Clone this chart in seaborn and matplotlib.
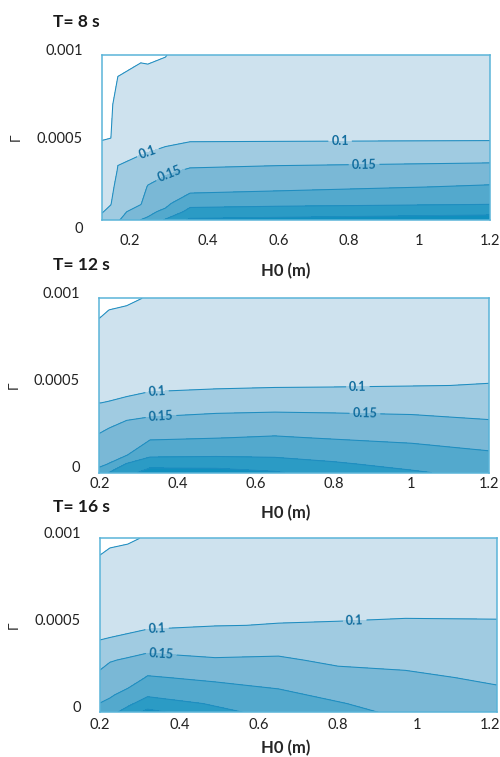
"""
Contour maps of the index against H0 and Gamma for three periods (T = 8, 12, 16 s)
"""
import numpy as np
import matplotlib
matplotlib.use("Agg")
import matplotlib.pyplot as plt
import matplotlib.transforms as mtransforms
import seaborn as sns

# Gamma sample heights, shared by the three runs
GAMMA = [0, 0.00005, 0.0001, 0.0002, 0.0003, 0.0004, 0.0005, 0.0007, 0.001]

# T = 8 s : H0 nodes, and the index at each GAMMA height (one list per H0 node)
H0_8 = [0.1, 0.125, 0.145, 0.21, 0.23, 0.28, 0.35, 0.6, 1.2]
VAL_8 = [
    [0.110, 0.098, 0.092, 0.081, 0.070, 0.059, 0.048, 0.045, 0.040],
    [0.125, 0.109, 0.098, 0.086, 0.074, 0.062, 0.0495, 0.045, 0.040],
    [0.145, 0.138, 0.131, 0.117, 0.103, 0.093, 0.083, 0.063, 0.040],
    [0.201, 0.169, 0.147, 0.131, 0.115, 0.099, 0.090, 0.071, 0.046],
    [0.205, 0.192, 0.179, 0.153, 0.127, 0.101, 0.090, 0.072, 0.045],
    [0.255, 0.208, 0.190, 0.167, 0.142, 0.113, 0.084, 0.072, 0.049],
    [0.308, 0.267, 0.234, 0.180, 0.155, 0.123, 0.092, 0.083, 0.065],
    [0.313, 0.272, 0.239, 0.188, 0.160, 0.126, 0.092, 0.084, 0.066],
    [0.325, 0.284, 0.246, 0.205, 0.167, 0.130, 0.093, 0.085, 0.067],
]

# T = 12 s
H0_12 = [0.2, 0.225, 0.27, 0.33, 0.5, 0.65, 0.8, 1.0, 1.2]
VAL_12 = [
    [0.210, 0.194, 0.181, 0.157, 0.129, 0.0998, 0.089, 0.066, 0.040],
    [0.251, 0.201, 0.189, 0.165, 0.138, 0.101, 0.091, 0.071, 0.044],
    [0.280, 0.253, 0.199, 0.175, 0.1499, 0.1034, 0.094, 0.074, 0.046],
    [0.324, 0.280, 0.242, 0.194, 0.157, 0.122, 0.088, 0.081, 0.052],
    [0.320, 0.280, 0.245, 0.199, 0.164, 0.129, 0.093, 0.083, 0.060],
    [0.305, 0.272, 0.243, 0.204, 0.167, 0.131, 0.096, 0.083, 0.060],
    [0.275, 0.255, 0.236, 0.197, 0.164, 0.131, 0.097, 0.084, 0.060],
    [0.255, 0.238, 0.222, 0.190, 0.160, 0.130, 0.099, 0.084, 0.060],
    [0.236, 0.222, 0.207, 0.179, 0.151, 0.127, 0.101, 0.085, 0.060],
]

# T = 16 s
H0_16 = [0.2, 0.225, 0.27, 0.32, 0.49, 0.65, 0.8, 0.97, 1.2]
VAL_16 = [
    [0.215, 0.201, 0.188, 0.162, 0.134, 0.1017, 0.091, 0.069, 0.041],
    [0.235, 0.211, 0.194, 0.171, 0.147, 0.103, 0.093, 0.072, 0.045],
    [0.270, 0.240, 0.217, 0.172, 0.155, 0.120, 0.082, 0.074, 0.047],
    [0.315, 0.274, 0.244, 0.204, 0.165, 0.128, 0.092, 0.080, 0.052],
    [0.262, 0.245, 0.227, 0.191, 0.154, 0.126, 0.099, 0.083, 0.058],
    [0.235, 0.222, 0.209, 0.183, 0.156, 0.130, 0.101, 0.085, 0.060],
    [0.215, 0.203, 0.190, 0.165, 0.142, 0.124, 0.102, 0.085, 0.060],
    [0.190, 0.181, 0.173, 0.157, 0.140, 0.123, 0.1035, 0.086, 0.060],
    [0.171, 0.164, 0.158, 0.144, 0.131, 0.118, 0.103, 0.086, 0.060],
]

TITLES = ['T= 8 s', 'T= 12 s', 'T= 16 s']
LEVELS = [0, 0.05, 0.1, 0.15, 0.2, 0.25, 0.3, 0.35]
PLAIN_LEVELS = [0.05, 0.2, 0.25, 0.3]
LABEL_LEVELS = [0.1, 0.15]
X_TICKS = [0.2, 0.4, 0.6, 0.8, 1.0, 1.2]
X_TICK_LABELS = ['0.2', '0.4', '0.6', '0.8', '1', '1.2']
Y_TICKS = [0, 0.0005, 0.001]
Y_TICK_LABELS = ['0', '0.0005', '0.001']


def shift_labels(fig, labels, shifts, axis):
    """
    Nudge tick labels by a few pixels, as they sit in the printed figure
    """
    for lab, d in zip(labels, shifts):
        dx, dy = (d, 0) if axis == 'x' else (0, d)
        lab.set_transform(lab.get_transform() + mtransforms.ScaledTranslation(
            dx / 100.0, dy / 100.0, fig.dpi_scale_trans))


def draw_panel(fig, rect, h0, vals, xmin, title, title_y, xlab_xy, ylab_x,
               xpad, label_pos, ylab_shift, xlab_shift):
    """
    Filled contour map of one run
    """
    ax = fig.add_axes(rect)
    z = np.array(vals).T

    ax.contourf(h0, GAMMA, z, levels=LEVELS, colors=FILL_COLORS)
    ax.contour(h0, GAMMA, z, levels=PLAIN_LEVELS, colors=LINE_COLOR,
               linewidths=0.75)
    cs = ax.contour(h0, GAMMA, z, levels=LABEL_LEVELS, colors=LINE_COLOR,
                    linewidths=0.75)
    labels = ax.clabel(cs, manual=label_pos, inline=True,
                       fmt={0.1: '0.1', 0.15: '0.15'}, fontsize=9,
                       colors=LABEL_COLOR, inline_spacing=3)
    for t in labels:
        t.set_fontweight('bold')

    ax.set_xlim(xmin, 1.2)
    ax.set_ylim(0, 0.001)
    ax.set_xticks(X_TICKS)
    ax.set_xticklabels(X_TICK_LABELS)
    ax.set_yticks(Y_TICKS)
    ax.set_yticklabels(Y_TICK_LABELS)

    for s in ax.spines.values():
        s.set_color(FRAME_COLOR)
        s.set_linewidth(1.1)
    ax.tick_params(axis='both', direction='out', length=4, width=1,
                   color=FRAME_COLOR, labelsize=10.5, labelcolor='#222222')
    ax.tick_params(axis='x', pad=xpad)
    ax.tick_params(axis='y', pad=10)

    shift_labels(fig, ax.get_yticklabels(), ylab_shift, 'y')
    shift_labels(fig, ax.get_xticklabels(), xlab_shift, 'x')

    ax.set_ylabel('Γ', fontsize=10, fontweight='normal')
    ax.yaxis.set_label_coords(ylab_x, 0.5)
    ax.set_xlabel('H0 (m)', fontsize=12, fontweight='bold')
    ax.xaxis.set_label_coords(*xlab_xy)
    ax.xaxis.label.set_va('center')

    fig.text(0.106, title_y, title, fontsize=12.5, fontweight='bold',
             ha='left', va='center', color='#1a1a1a')
    return ax


sns.set_theme()
sns.set_style("white")
plt.rcParams['font.family'] = ['Lato', 'DejaVu Sans']

FILL_COLORS = ['white'] + list(sns.color_palette(
    ['#cee2ee', '#a0cbe1', '#7ab8d6', '#53a9cd', '#2b9bc5', '#108fbe']))
LINE_COLOR = '#1f8dc0'
LABEL_COLOR = '#116d9e'
FRAME_COLOR = '#5ab4d8'

fig = plt.figure(figsize=(5, 7.57), dpi=100)
fig.patch.set_facecolor('white')

ax1 = draw_panel(fig, [0.204, 0.7094, 0.776, 0.218], H0_8, VAL_8, 0.1,
                 TITLES[0], 0.971, (0.474, -0.309), -0.206, 6,
                 [(0.23, 0.00041), (0.775, 0.00048), (0.293, 0.00028),
                  (0.843, 0.00034)], [-8, 0, 5], [-8, 0, 0, 0, 0, 0])
ax2 = draw_panel(fig, [0.1986, 0.3756, 0.780, 0.2304], H0_12, VAL_12, 0.2,
                 TITLES[1], 0.650, (0.479, -0.231), -0.203, -1,
                 [(0.348, 0.00046), (0.863, 0.00049), (0.358, 0.00033),
                  (0.881, 0.00033)], [6, 6, 6], [0, 0, 0, 0, 0, 0])
ax3 = draw_panel(fig, [0.200, 0.0590, 0.7934, 0.2299], H0_16, VAL_16, 0.2,
                 TITLES[2], 0.330, (0.468, -0.205), -0.202, 0,
                 [(0.344, 0.00047), (0.842, 0.00053), (0.354, 0.00033)],
                 [6, 6, 6], [0, 0, 0, 0, 0, -7])

plt.savefig('out.png', dpi=100, facecolor='white')
